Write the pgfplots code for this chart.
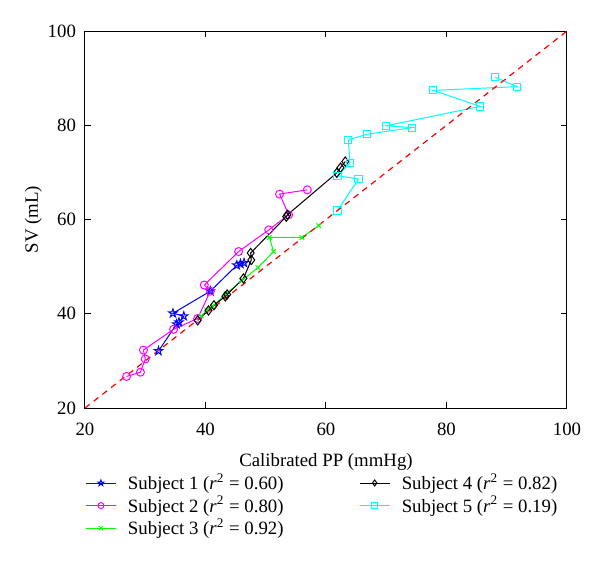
\documentclass[border=0pt]{standalone}
\usepackage{fontspec}
\setmainfont{Liberation Serif}
\usepackage{pgfplots}
\pgfplotsset{compat=1.18}
\pgfdeclareplotmark{pentagram}{%
  \pgfpathmoveto{\pgfpointpolar{90}{\pgfplotmarksize}}%
  \pgfpathlineto{\pgfpointpolar{126}{0.382\pgfplotmarksize}}%
  \pgfpathlineto{\pgfpointpolar{162}{\pgfplotmarksize}}%
  \pgfpathlineto{\pgfpointpolar{198}{0.382\pgfplotmarksize}}%
  \pgfpathlineto{\pgfpointpolar{234}{\pgfplotmarksize}}%
  \pgfpathlineto{\pgfpointpolar{270}{0.382\pgfplotmarksize}}%
  \pgfpathlineto{\pgfpointpolar{306}{\pgfplotmarksize}}%
  \pgfpathlineto{\pgfpointpolar{342}{0.382\pgfplotmarksize}}%
  \pgfpathlineto{\pgfpointpolar{18}{\pgfplotmarksize}}%
  \pgfpathlineto{\pgfpointpolar{54}{0.382\pgfplotmarksize}}%
  \pgfpathclose\pgfusepathqstroke}
\definecolor{sblue}{rgb}{0,0,1}
\definecolor{smag}{rgb}{1,0,1}
\definecolor{sgreen}{rgb}{0,1,0}
\definecolor{scyan}{rgb}{0,1,1}
\definecolor{sred}{rgb}{1,0,0}
\begin{document}
\begin{tikzpicture}
\useasboundingbox (-42.5pt,-85.5pt) rectangle (257.5pt,204pt);
\begin{axis}[
  at={(0,0)}, anchor=south west,
  scale only axis, width=241pt, height=188.5pt,
  xmin=20, xmax=100, ymin=20, ymax=100,
  xtick={20,40,...,100}, ytick={20,40,...,100},
  tick align=inside, major tick length=3pt,
  font=\fontsize{9.4}{11}\selectfont,
  /pgf/number format/assume math mode=true,
  xticklabel style={yshift=-4pt},
  yticklabel style={xshift=-1pt},
  axis line style={line width=0.5pt},
  every tick/.style={line width=0.5pt},
  xlabel={Calibrated PP (mmHg)}, ylabel={SV (mL)},
  xlabel style={yshift=-2pt},
  ylabel style={yshift=-4pt},
  legend columns=3, transpose legend,
  legend style={draw=none, fill=none, at={(0,-0.168)}, anchor=north west,
    inner sep=0pt, font=\fontsize{9.4}{11}\selectfont,
    nodes={inner sep=0.8pt},
    /tikz/every odd column/.append style={column sep=5pt},
    /tikz/every even column/.append style={column sep=37pt},
    row sep=0pt},
  legend cell align=left,
  legend image code/.code={\draw[mark repeat=2,mark phase=2,mark size=1.5pt] plot coordinates {(0pt,0pt) (7.5pt,0pt) (15pt,0pt)};},
  every axis plot/.append style={line width=0.5pt},
]
\addplot[color=sblue, mark=pentagram, mark size=2.2pt, mark options={solid}] coordinates {
(32.2,32.1)(35.2,37.8)(35.6,38.2)(36.4,39.5)(34.6,40.1)(40.8,44.8)(45.2,50.3)(45.8,50.6)(46.4,50.8)};
\addlegendentry{Subject 1 (\textit{r}\textsuperscript{2} = 0.60)}
\addplot[color=smag, mark=o, mark size=2pt] coordinates {
(26.9,26.7)(29.2,27.6)(30.0,30.4)(29.7,32.3)(34.7,36.7)(38.7,39.0)(40.8,44.8)(39.8,46.1)(45.5,53.2)(50.5,57.8)(53.8,61.0)(52.3,65.4)(56.9,66.3)};
\addlegendentry{Subject 2 (\textit{r}\textsuperscript{2} = 0.80)}
\addplot[color=sgreen, mark=x, mark size=1.6pt] coordinates {
(39.3,39.5)(40.2,40.8)(41.2,41.6)(43.4,44.2)(46.0,47.0)(48.7,49.8)(51.3,53.2)(50.6,56.2)(56.0,56.2)(58.8,58.7)};
\addlegendentry{Subject 3 (\textit{r}\textsuperscript{2} = 0.92)}
\addplot[color=black, mark=diamond, mark size=2.3pt] coordinates {
(38.7,38.6)(40.5,40.7)(41.4,41.8)(43.3,43.7)(43.6,44.1)(46.3,47.5)(47.6,51.4)(47.5,52.9)(53.4,60.6)(53.6,61.0)(61.8,69.9)(62.4,71.0)(63.2,72.3)};
\addlegendentry{Subject 4 (\textit{r}\textsuperscript{2} = 0.82)}
\addplot[color=scyan, mark=square, mark size=1.8pt] coordinates {
(61.9,61.9)(65.4,68.6)(61.9,69.3)(64.0,72.0)(63.7,76.9)(66.8,78.1)(74.3,79.5)(70.0,79.9)(85.6,84.0)(77.8,87.4)(91.7,88.2)(88.1,90.2)};
\addlegendentry{Subject 5 (\textit{r}\textsuperscript{2} = 0.19)}
\addplot[color=sred, dashed, line width=0.6pt, forget plot, dash pattern=on 3pt off 2.5pt] coordinates {(20,20)(100,100)};
\end{axis}
\end{tikzpicture}
\end{document}
